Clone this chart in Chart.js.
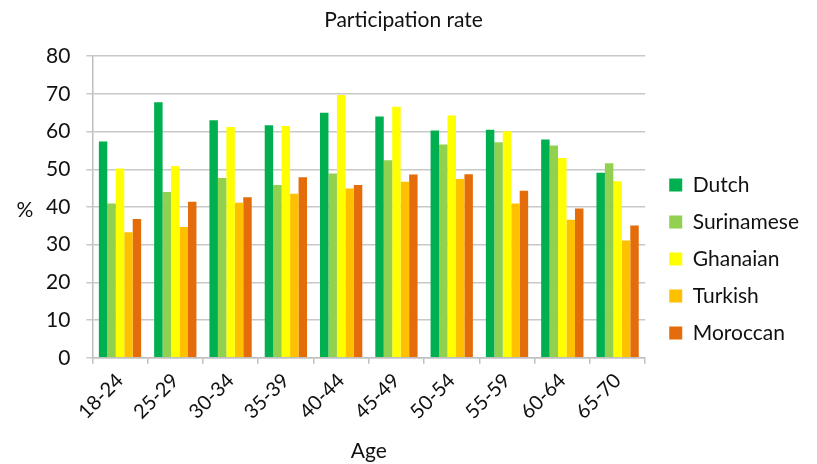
<!DOCTYPE html>
<html>
<head>
<meta charset="utf-8">
<script src="https://cdn.jsdelivr.net/npm/chart.js@4/dist/chart.umd.min.js"></script>
<style>
  html, body { margin: 0; padding: 0; background: #fff; }
  #wrap { width: 817px; height: 464px; }
</style>
</head>
<body>
<div id="wrap"><canvas id="c" width="817" height="464"></canvas></div>
<script>
// Age groups on the horizontal axis
const ageGroups = ['18-24', '25-29', '30-34', '35-39', '40-44', '45-49', '50-54', '55-59', '60-64', '65-70'];

// Participation rate (%) per ethnic group
const dutch      = [57.4, 67.8, 63.0, 61.7, 65.0, 64.0, 60.3, 60.5, 57.9, 49.1];
const surinamese = [40.9, 44.0, 47.7, 45.8, 48.9, 52.4, 56.6, 57.2, 56.3, 51.6];
const ghanaian   = [50.2, 50.9, 61.2, 61.5, 69.7, 66.6, 64.3, 60.1, 53.0, 46.8];
const turkish    = [33.3, 34.7, 41.1, 43.5, 44.9, 46.7, 47.4, 40.9, 36.6, 31.1];
const moroccan   = [36.8, 41.4, 42.6, 47.9, 45.8, 48.6, 48.7, 44.3, 39.6, 35.1];

const seriesNames = ['Dutch', 'Surinamese', 'Ghanaian', 'Turkish', 'Moroccan'];
const seriesColors = ['#00B050', '#92D050', '#FFFF00', '#FFC000', '#E46C0A'];
const seriesValues = [dutch, surinamese, ghanaian, turkish, moroccan];

const FONT = 'Lato, "Open Sans", sans-serif';
const TXT = '#111';

// Horizontal "%" label to the left of the value axis
const unitLabel = {
  id: 'unitLabel',
  afterDraw(chart) {
    const { ctx, chartArea } = chart;
    ctx.save();
    ctx.fillStyle = TXT;
    ctx.font = '21px ' + FONT;
    ctx.textAlign = 'center';
    ctx.textBaseline = 'middle';
    ctx.fillText('%', 25, (chartArea.top + chartArea.bottom) / 2 + 3);
    ctx.restore();
  }
};

// Nudge the legend block and the title into place around the plot
const boxShift = {
  id: 'boxShift',
  afterLayout(chart) {
    const lg = chart.legend;
    if (lg) {
      const dx = 8, dy = 27;
      lg.left += dx; lg.right += dx;
      lg.top += dy; lg.bottom += dy;
    }
    const tt = chart.titleBlock;
    if (tt) {
      const tx = -12;
      tt.left += tx; tt.right += tx;
    }
  }
};

new Chart(document.getElementById('c'), {
  type: 'bar',
  data: {
    labels: ageGroups,
    datasets: seriesNames.map((name, i) => ({
      label: name,
      data: seriesValues[i],
      backgroundColor: seriesColors[i],
      borderWidth: 0,
      categoryPercentage: 0.765,
      barPercentage: 1.0
    }))
  },
  plugins: [unitLabel, boxShift],
  options: {
    responsive: false,
    animation: false,
    devicePixelRatio: 1,
    layout: { padding: { left: 30, right: 16, top: 0, bottom: 0 } },
    plugins: {
      title: {
        display: true,
        text: 'Participation rate',
        color: TXT,
        font: { family: FONT, size: 21, weight: 'normal' },
        padding: { top: 8, bottom: 23 }
      },
      legend: {
        position: 'right',
        align: 'center',
        labels: {
          color: TXT,
          font: { family: FONT, size: 21 },
          boxWidth: 13,
          boxHeight: 13,
          padding: 16
        }
      },
      tooltip: { enabled: false }
    },
    scales: {
      x: {
        offset: true,
        grid: {
          offset: true,
          drawOnChartArea: false,
          drawTicks: true,
          tickLength: 6,
          color: '#BFBFBF',
          lineWidth: 1.5
        },
        border: { color: '#BFBFBF', width: 1.5 },
        ticks: {
          autoSkip: false,
          maxRotation: 45,
          minRotation: 45,
          color: TXT,
          font: { family: FONT, size: 20 },
          padding: 5
        },
        title: {
          display: true,
          text: 'Age',
          color: TXT,
          font: { family: FONT, size: 21 },
          padding: { top: 10, bottom: 0 }
        }
      },
      y: {
        min: 0,
        max: 80,
        ticks: {
          stepSize: 10,
          color: TXT,
          font: { family: FONT, size: 21 },
          padding: 16
        },
        grid: {
          color: '#C8C8C8',
          lineWidth: 1.5,
          tickLength: 6
        },
        border: { color: '#BFBFBF', width: 1.5 }
      }
    }
  }
});
</script>
</body>
</html>
